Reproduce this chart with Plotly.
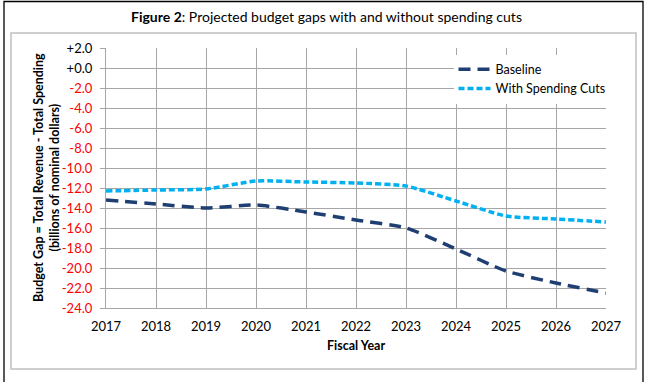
import plotly.graph_objects as go

years = [2017, 2018, 2019, 2020, 2021, 2022, 2023, 2024, 2025, 2026, 2027]
baseline = [-13.2, -13.6, -14.0, -13.7, -14.4, -15.2, -16.0, -18.1, -20.3, -21.5, -22.5]
with_cuts = [-12.3, -12.2, -12.1, -11.3, -11.4, -11.5, -11.8, -13.3, -14.8, -15.1, -15.4]
y_ticks = [2, 0, -2, -4, -6, -8, -10, -12, -14, -16, -18, -20, -22, -24]
y_ticktext = ['<span style="color:black">+2.0</span>', '<span style="color:black">+0.0</span>'] + \
             ["%.1f" % v for v in y_ticks[2:]]

FONT = "Lato"

fig = go.Figure()
fig.add_trace(go.Scatter(
    x=years, y=baseline, mode="lines", name="Baseline",
    line=dict(color="#1F3F73", width=3.5, dash="12px,7px", shape="spline", smoothing=0.6),
))
fig.add_trace(go.Scatter(
    x=years, y=with_cuts, mode="lines", name="With Spending Cuts",
    line=dict(color="#00B0F0", width=3.5, dash="6px,3px", shape="spline", smoothing=0.6),
))

fig.update_layout(
    width=652, height=382,
    margin=dict(l=106, r=46, t=48, b=74),
    paper_bgcolor="white", plot_bgcolor="white",
    font=dict(family=FONT, size=12.5, color="black"),
    showlegend=True,
    legend=dict(x=0.695, y=0.975, xanchor="left", yanchor="top",
                bgcolor="white", borderwidth=0, font=dict(size=12.5),
                tracegroupgap=2, itemwidth=32),
    xaxis=dict(range=[2017, 2027], tickvals=years, showgrid=True, gridcolor="#A6A6A6",
               gridwidth=1.2, zeroline=False, showline=True, linecolor="#A6A6A6", linewidth=1.2,
               ticks="outside", ticklen=6, tickcolor="rgba(0,0,0,0)",
               tickfont=dict(size=13)),
    yaxis=dict(range=[-24, 2], tickvals=y_ticks, ticktext=y_ticktext, showgrid=True,
               gridcolor="#A6A6A6", gridwidth=1.2, zeroline=False, showline=True,
               linecolor="#A6A6A6", linewidth=1.2, ticks="outside", ticklen=5,
               tickcolor="#A6A6A6", tickfont=dict(size=13, color="red"),
               ticklabelstandoff=5),
)

# title
fig.add_annotation(xref="paper", yref="paper", x=(326 - 106) / 500, y=(308 - 17) / 260,
                   text="<b>Figure 2</b>: Projected budget gaps with and without spending cuts",
                   showarrow=False, xanchor="center", yanchor="middle",
                   font=dict(size=14, color="black"))
# axis titles
fig.add_annotation(xref="paper", yref="paper", x=(46 - 106) / 500, y=0.5,
                   text="<b>Budget Gap = Total Revenue - Total Spending<br>(billions of nominal dollars)</b>",
                   textangle=-90, showarrow=False, xanchor="center", yanchor="middle",
                   font=dict(size=12.5, color="black"))
fig.add_annotation(xref="paper", yref="paper", x=0.5, y=(308 - 345) / 260,
                   text="<b>Fiscal Year</b>", showarrow=False, xanchor="center", yanchor="middle",
                   font=dict(size=12.5, color="black"))

# frames
fig.add_shape(type="rect", xref="paper", yref="paper",
              x0=(4 - 106) / 500, x1=(643 - 106) / 500,
              y0=(308 - 390) / 260, y1=(308 - 1.5) / 260,
              line=dict(color="black", width=1.3), layer="below")
fig.add_shape(type="rect", xref="paper", yref="paper",
              x0=(11 - 106) / 500, x1=(636 - 106) / 500,
              y0=(308 - 369) / 260, y1=(308 - 33) / 260,
              line=dict(color="#C0C0C0", width=1.5), layer="below")

fig.write_html("out.html", config={"displayModeBar": False},
               post_script="document.body.style.margin='0';document.body.style.overflow='hidden';")
